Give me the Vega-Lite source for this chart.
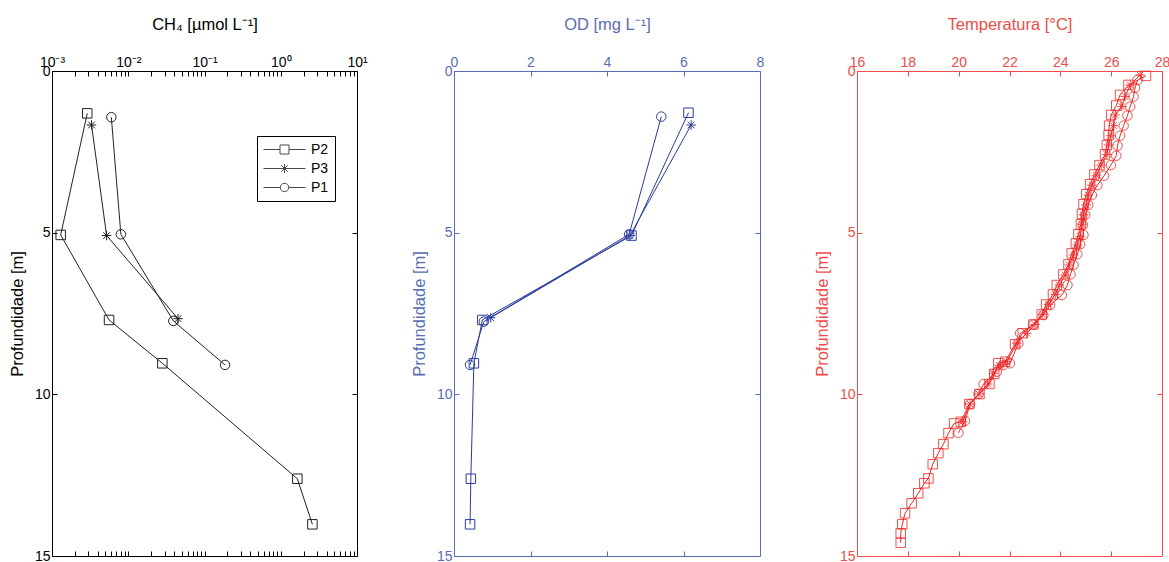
{
  "$schema": "https://vega.github.io/schema/vega-lite/v6.json",
  "background": "white",
  "padding": {"left": 8, "top": 15, "right": 5, "bottom": 5},
  "spacing": 97,
  "bounds": "flush",
  "config": {
    "font": "Liberation Sans",
    "axis": {"domain": false, "grid": false, "tickSize": -5, "labelFontSize": 14, "titleFontSize": 16.5, "titleFontWeight": "normal", "labelFlush": false, "labelOverlap": false, "labelPadding": 7, "titlePadding": 9, "tickWidth": 1},
    "axisTop": {"titlePadding": 23},
    "view": {"strokeWidth": 1}
  },
  "datasets": {
    "ch4": [
      {"serie": "P2", "prof": 1.31, "v": 0.0029},
      {"serie": "P2", "prof": 5.07, "v": 0.0013},
      {"serie": "P2", "prof": 7.70, "v": 0.0056},
      {"serie": "P2", "prof": 9.04, "v": 0.028},
      {"serie": "P2", "prof": 12.61, "v": 1.65},
      {"serie": "P2", "prof": 14.02, "v": 2.6},
      {"serie": "P3", "prof": 1.67, "v": 0.0033},
      {"serie": "P3", "prof": 5.09, "v": 0.0052},
      {"serie": "P3", "prof": 7.66, "v": 0.045},
      {"serie": "P1", "prof": 1.43, "v": 0.006},
      {"serie": "P1", "prof": 5.05, "v": 0.008},
      {"serie": "P1", "prof": 7.73, "v": 0.039},
      {"serie": "P1", "prof": 9.09, "v": 0.186}
    ],
    "od": [
      {"serie": "P2", "prof": 1.29, "v": 6.13},
      {"serie": "P2", "prof": 5.09, "v": 4.64},
      {"serie": "P2", "prof": 7.70, "v": 0.74},
      {"serie": "P2", "prof": 9.04, "v": 0.52},
      {"serie": "P2", "prof": 12.61, "v": 0.44},
      {"serie": "P2", "prof": 14.02, "v": 0.42},
      {"serie": "P3", "prof": 1.67, "v": 6.2},
      {"serie": "P3", "prof": 5.09, "v": 4.6},
      {"serie": "P3", "prof": 7.63, "v": 0.96},
      {"serie": "P1", "prof": 1.41, "v": 5.42},
      {"serie": "P1", "prof": 5.05, "v": 4.58},
      {"serie": "P1", "prof": 7.75, "v": 0.78},
      {"serie": "P1", "prof": 9.09, "v": 0.42}
    ],
    "temp": [
      {"serie": "P2", "prof": 0.15, "v": 27.37},
      {"serie": "P2", "prof": 0.43, "v": 26.68},
      {"serie": "P2", "prof": 0.74, "v": 26.35},
      {"serie": "P2", "prof": 1.07, "v": 26.2},
      {"serie": "P2", "prof": 1.36, "v": 26.0},
      {"serie": "P2", "prof": 1.69, "v": 25.92},
      {"serie": "P2", "prof": 1.98, "v": 25.9},
      {"serie": "P2", "prof": 2.29, "v": 25.83},
      {"serie": "P2", "prof": 2.58, "v": 25.76},
      {"serie": "P2", "prof": 2.91, "v": 25.54},
      {"serie": "P2", "prof": 3.2, "v": 25.34},
      {"serie": "P2", "prof": 3.5, "v": 25.17},
      {"serie": "P2", "prof": 3.81, "v": 25.02},
      {"serie": "P2", "prof": 4.12, "v": 24.91},
      {"serie": "P2", "prof": 4.42, "v": 24.85},
      {"serie": "P2", "prof": 4.74, "v": 24.81},
      {"serie": "P2", "prof": 5.05, "v": 24.71},
      {"serie": "P2", "prof": 5.33, "v": 24.61},
      {"serie": "P2", "prof": 5.64, "v": 24.45},
      {"serie": "P2", "prof": 5.98, "v": 24.32},
      {"serie": "P2", "prof": 6.29, "v": 24.12},
      {"serie": "P2", "prof": 6.62, "v": 23.86},
      {"serie": "P2", "prof": 6.91, "v": 23.71},
      {"serie": "P2", "prof": 7.22, "v": 23.44},
      {"serie": "P2", "prof": 7.53, "v": 23.27},
      {"serie": "P2", "prof": 7.84, "v": 22.94},
      {"serie": "P2", "prof": 8.11, "v": 22.52},
      {"serie": "P2", "prof": 8.45, "v": 22.22},
      {"serie": "P2", "prof": 8.99, "v": 21.83},
      {"serie": "P2", "prof": 9.04, "v": 21.56},
      {"serie": "P2", "prof": 9.37, "v": 21.4},
      {"serie": "P2", "prof": 9.68, "v": 21.21},
      {"serie": "P2", "prof": 9.99, "v": 20.82},
      {"serie": "P2", "prof": 10.3, "v": 20.42},
      {"serie": "P2", "prof": 10.85, "v": 20.08},
      {"serie": "P2", "prof": 10.9, "v": 19.82},
      {"serie": "P2", "prof": 11.2, "v": 19.6},
      {"serie": "P2", "prof": 11.54, "v": 19.4},
      {"serie": "P2", "prof": 11.82, "v": 19.2},
      {"serie": "P2", "prof": 12.16, "v": 18.98},
      {"serie": "P2", "prof": 12.6, "v": 18.81},
      {"serie": "P2", "prof": 12.75, "v": 18.65},
      {"serie": "P2", "prof": 13.06, "v": 18.41},
      {"serie": "P2", "prof": 13.37, "v": 18.15},
      {"serie": "P2", "prof": 13.68, "v": 17.89},
      {"serie": "P2", "prof": 14.02, "v": 17.78},
      {"serie": "P2", "prof": 14.3, "v": 17.72},
      {"serie": "P2", "prof": 14.59, "v": 17.72},
      {"serie": "P3", "prof": 0.12, "v": 27.14},
      {"serie": "P3", "prof": 0.43, "v": 26.75},
      {"serie": "P3", "prof": 0.79, "v": 26.55},
      {"serie": "P3", "prof": 1.1, "v": 26.42},
      {"serie": "P3", "prof": 1.36, "v": 26.16},
      {"serie": "P3", "prof": 1.69, "v": 26.09},
      {"serie": "P3", "prof": 2.0, "v": 25.99},
      {"serie": "P3", "prof": 2.29, "v": 25.9},
      {"serie": "P3", "prof": 2.58, "v": 25.83},
      {"serie": "P3", "prof": 2.91, "v": 25.61},
      {"serie": "P3", "prof": 3.22, "v": 25.41},
      {"serie": "P3", "prof": 3.53, "v": 25.24},
      {"serie": "P3", "prof": 3.84, "v": 25.1},
      {"serie": "P3", "prof": 4.14, "v": 25.02},
      {"serie": "P3", "prof": 4.45, "v": 24.91},
      {"serie": "P3", "prof": 4.74, "v": 24.85},
      {"serie": "P3", "prof": 5.12, "v": 24.78},
      {"serie": "P3", "prof": 5.38, "v": 24.67},
      {"serie": "P3", "prof": 5.69, "v": 24.52},
      {"serie": "P3", "prof": 6.0, "v": 24.35},
      {"serie": "P3", "prof": 6.31, "v": 24.19},
      {"serie": "P3", "prof": 6.62, "v": 23.96},
      {"serie": "P3", "prof": 6.91, "v": 23.8},
      {"serie": "P3", "prof": 7.22, "v": 23.53},
      {"serie": "P3", "prof": 7.53, "v": 23.31},
      {"serie": "P3", "prof": 7.84, "v": 23.0},
      {"serie": "P3", "prof": 8.11, "v": 22.68},
      {"serie": "P3", "prof": 8.42, "v": 22.29},
      {"serie": "P3", "prof": 8.99, "v": 21.89},
      {"serie": "P3", "prof": 9.1, "v": 21.6},
      {"serie": "P3", "prof": 9.35, "v": 21.37},
      {"serie": "P3", "prof": 9.68, "v": 21.15},
      {"serie": "P3", "prof": 9.99, "v": 20.8},
      {"serie": "P3", "prof": 10.3, "v": 20.45},
      {"serie": "P3", "prof": 10.85, "v": 20.15},
      {"serie": "P1", "prof": 0.28, "v": 27.04},
      {"serie": "P1", "prof": 0.52, "v": 26.94},
      {"serie": "P1", "prof": 0.79, "v": 26.88},
      {"serie": "P1", "prof": 1.1, "v": 26.75},
      {"serie": "P1", "prof": 1.38, "v": 26.64},
      {"serie": "P1", "prof": 1.69, "v": 26.49},
      {"serie": "P1", "prof": 2.0, "v": 26.35},
      {"serie": "P1", "prof": 2.31, "v": 26.25},
      {"serie": "P1", "prof": 2.62, "v": 26.2},
      {"serie": "P1", "prof": 2.91, "v": 25.99},
      {"serie": "P1", "prof": 3.24, "v": 25.72},
      {"serie": "P1", "prof": 3.53, "v": 25.46},
      {"serie": "P1", "prof": 3.84, "v": 25.24},
      {"serie": "P1", "prof": 4.14, "v": 25.1},
      {"serie": "P1", "prof": 4.45, "v": 24.98},
      {"serie": "P1", "prof": 4.76, "v": 24.89},
      {"serie": "P1", "prof": 5.07, "v": 24.91},
      {"serie": "P1", "prof": 5.36, "v": 24.78},
      {"serie": "P1", "prof": 5.67, "v": 24.67},
      {"serie": "P1", "prof": 6.0, "v": 24.52},
      {"serie": "P1", "prof": 6.29, "v": 24.4},
      {"serie": "P1", "prof": 6.62, "v": 24.28},
      {"serie": "P1", "prof": 6.93, "v": 24.06},
      {"serie": "P1", "prof": 7.24, "v": 23.6},
      {"serie": "P1", "prof": 7.55, "v": 23.33},
      {"serie": "P1", "prof": 7.84, "v": 22.94},
      {"serie": "P1", "prof": 8.11, "v": 22.42},
      {"serie": "P1", "prof": 8.42, "v": 22.35},
      {"serie": "P1", "prof": 9.04, "v": 22.02},
      {"serie": "P1", "prof": 9.1, "v": 21.75},
      {"serie": "P1", "prof": 9.3, "v": 21.5},
      {"serie": "P1", "prof": 9.68, "v": 20.98},
      {"serie": "P1", "prof": 9.99, "v": 20.78},
      {"serie": "P1", "prof": 10.3, "v": 20.45},
      {"serie": "P1", "prof": 10.82, "v": 20.25},
      {"serie": "P1", "prof": 11.19, "v": 19.99}
    ]
  },
  "hconcat": [
    {
      "width": 305, "height": 485,
      "view": {"stroke": "black"},
      "data": {"name": "ch4"},
      "layer": [
        {
          "mark": {"type": "line", "color": "#222222", "strokeWidth": 1},
          "encoding": {
            "x": {"field": "v", "type": "quantitative", "scale": {"type": "log", "domain": [0.001, 10], "nice": false},
              "axis": {"orient": "top", "title": "CH₄ [µmol L⁻¹]", "labelColor": "black", "titleColor": "black", "tickColor": "black",
                "values": [0.001,0.002,0.003,0.004,0.005,0.006,0.007,0.008,0.009,0.01,0.02,0.03,0.04,0.05,0.06,0.07,0.08,0.09,0.1,0.2,0.3,0.4,0.5,0.6,0.7,0.8,0.9,1,2,3,4,5,6,7,8,9,10],
                "labelExpr": "datum.value == 0.001 ? '10⁻³' : datum.value == 0.01 ? '10⁻²' : datum.value == 0.1 ? '10⁻¹' : datum.value == 1 ? '10⁰' : datum.value == 10 ? '10¹' : ''"}},
            "y": {"field": "prof", "type": "quantitative", "scale": {"domain": [0, 15], "reverse": true, "nice": false, "zero": false},
              "axis": {"orient": "left", "title": "Profundidade [m]", "values": [0, 5, 10, 15], "labelColor": "black", "titleColor": "black", "tickColor": "black"}},
            "detail": {"field": "serie"},
            "order": {"field": "prof"}
          }
        },
        {
          "mark": {"type": "point", "filled": false, "color": "#222222", "strokeWidth": 1, "size": 90, "opacity": 1},
          "encoding": {
            "x": {"field": "v", "type": "quantitative",
              "axis": {"orient": "bottom", "title": null, "labels": false, "tickColor": "black",
                "values": [0.001,0.002,0.003,0.004,0.005,0.006,0.007,0.008,0.009,0.01,0.02,0.03,0.04,0.05,0.06,0.07,0.08,0.09,0.1,0.2,0.3,0.4,0.5,0.6,0.7,0.8,0.9,1,2,3,4,5,6,7,8,9,10]}},
            "y": {"field": "prof", "type": "quantitative", "axis": {"orient": "right", "title": null, "labels": false, "values": [5, 10], "tickColor": "black"}},
            "shape": {"field": "serie", "type": "nominal", "legend": null,
              "scale": {"domain": ["P2", "P3", "P1"], "range": ["square", "M-1,0H1M0,-1V1M-0.7,-0.7L0.7,0.7M-0.7,0.7L0.7,-0.7", "circle"]}}
          }
        },
        {
          "transform": [{"filter": "false"}],
          "mark": {"type": "point", "filled": false, "color": "black", "strokeWidth": 1},
          "encoding": {
            "shape": {"field": "serie", "type": "nominal",
              "scale": {"domain": ["P2", "P3", "P1"], "range": [
                "M-1,0H1.357M2.643,0H5M1.357,-0.643H2.643V0.643H1.357Z",
                "M-1,0H5M2,-0.643V0.643M1.545,-0.455L2.455,0.455M1.545,0.455L2.455,-0.455",
                "M-1,0H1.4M2.6,0H5M2.6,0A0.6,0.6 0 1,1 1.4,0A0.6,0.6 0 1,1 2.6,0"]},
              "legend": {"title": null, "orient": "none", "legendX": 205, "legendY": 65, "symbolSize": 196, "symbolStrokeWidth": 1, "symbolStrokeColor": "black", "symbolFillColor": "transparent", "labelFontSize": 14, "labelColor": "black", "labelOffset": 33, "strokeColor": "black", "fillColor": "white", "padding": 6, "rowPadding": 4}}
          }
        }
      ],
      "resolve": {"axis": {"x": "independent", "y": "independent"}, "scale": {"shape": "independent"}}
    },
    {
      "width": 306, "height": 485,
      "view": {"stroke": "#5a6db4"},
      "data": {"name": "od"},
      "layer": [
        {
          "mark": {"type": "line", "color": "#2b3c9e", "strokeWidth": 1},
          "encoding": {
            "x": {"field": "v", "type": "quantitative", "scale": {"domain": [0, 8], "nice": false},
              "axis": {"orient": "top", "title": "OD [mg L⁻¹]", "values": [0, 2, 4, 6, 8], "labelColor": "#5a6db4", "titleColor": "#5a6db4", "tickColor": "#5a6db4"}},
            "y": {"field": "prof", "type": "quantitative", "scale": {"domain": [0, 15], "reverse": true, "nice": false, "zero": false},
              "axis": {"orient": "left", "title": "Profundidade [m]", "values": [0, 5, 10, 15], "labelColor": "#5a6db4", "titleColor": "#5a6db4", "tickColor": "#5a6db4"}},
            "detail": {"field": "serie"},
            "order": {"field": "prof"}
          }
        },
        {
          "mark": {"type": "point", "filled": false, "color": "#2b3c9e", "strokeWidth": 1, "size": 90, "opacity": 1},
          "encoding": {
            "x": {"field": "v", "type": "quantitative", "axis": {"orient": "bottom", "title": null, "labels": false, "values": [2, 4, 6], "tickColor": "#5a6db4"}},
            "y": {"field": "prof", "type": "quantitative", "axis": {"orient": "right", "title": null, "labels": false, "values": [5, 10], "tickColor": "#5a6db4"}},
            "shape": {"field": "serie", "type": "nominal", "legend": null,
              "scale": {"domain": ["P2", "P3", "P1"], "range": ["square", "M-1,0H1M0,-1V1M-0.7,-0.7L0.7,0.7M-0.7,0.7L0.7,-0.7", "circle"]}}
          }
        }
      ],
      "resolve": {"axis": {"x": "independent", "y": "independent"}}
    },
    {
      "width": 305, "height": 485,
      "view": {"stroke": "#f04c4c"},
      "data": {"name": "temp"},
      "layer": [
        {
          "mark": {"type": "line", "color": "#f02424", "strokeWidth": 1},
          "encoding": {
            "x": {"field": "v", "type": "quantitative", "scale": {"domain": [16, 28], "nice": false, "zero": false},
              "axis": {"orient": "top", "title": "Temperatura [°C]", "values": [16, 18, 20, 22, 24, 26, 28], "labelColor": "#f04c4c", "titleColor": "#f04c4c", "tickColor": "#f04c4c"}},
            "y": {"field": "prof", "type": "quantitative", "scale": {"domain": [0, 15], "reverse": true, "nice": false, "zero": false},
              "axis": {"orient": "left", "title": "Profundidade [m]", "values": [0, 5, 10, 15], "labelColor": "#f04c4c", "titleColor": "#f04c4c", "tickColor": "#f04c4c"}},
            "detail": {"field": "serie"},
            "order": {"field": "prof"}
          }
        },
        {
          "mark": {"type": "point", "filled": false, "color": "#f02424", "strokeWidth": 1, "size": 90, "opacity": 0.8},
          "encoding": {
            "x": {"field": "v", "type": "quantitative", "axis": {"orient": "bottom", "title": null, "labels": false, "values": [18, 20, 22, 24, 26], "tickColor": "#f04c4c"}},
            "y": {"field": "prof", "type": "quantitative", "axis": {"orient": "right", "title": null, "labels": false, "values": [5, 10], "tickColor": "#f04c4c"}},
            "shape": {"field": "serie", "type": "nominal", "legend": null,
              "scale": {"domain": ["P2", "P3", "P1"], "range": ["square", "M-1,0H1M0,-1V1M-0.7,-0.7L0.7,0.7M-0.7,0.7L0.7,-0.7", "circle"]}}
          }
        }
      ],
      "resolve": {"axis": {"x": "independent", "y": "independent"}}
    }
  ]
}
